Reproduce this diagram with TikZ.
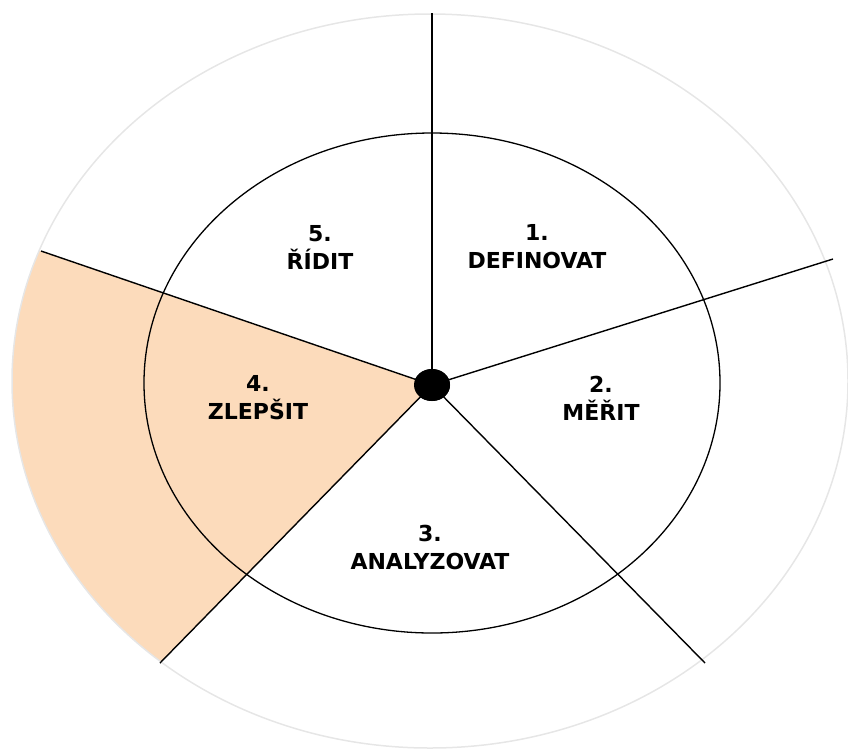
\documentclass[tikz,border=0pt]{standalone}
\usepackage{fontspec}
\setmainfont{DejaVu Sans}
\usepackage{tikz}
\usetikzlibrary{calc,shapes.geometric}
\definecolor{peach}{HTML}{FCDBBB}
\definecolor{rimgray}{HTML}{E6E6E6}
\tikzset{
  % hjulet
  rim/.style={draw=rimgray,line width=1.5pt},
  ring/.style={draw=black,line width=1.3pt},
  spoke/.style={draw=black,line width=1.4pt},
  hub/.style={ellipse,fill=black,inner sep=0pt,minimum width=36pt,minimum height=32pt},
  active/.style={fill=peach},
  % faser
  phase/.style={font=\fontsize{22}{28}\selectfont\bfseries,align=center,inner sep=0pt},
}
\begin{document}
\begin{tikzpicture}[x=1pt,y=-1pt]
  \useasboundingbox (0,0) rectangle (848,748);
  \coordinate (mid) at (430,381);
  \coordinate (pTop) at (432,13);
  \coordinate (pRight) at (833,259);
  \coordinate (pLowR) at (705,663);
  \coordinate (pLowL) at (160,663);
  \coordinate (pLeft) at (41,251);
  \node[hub] (hub) at (432,385) {};
  \begin{scope}
  \clip (mid) ellipse [x radius=418,y radius=367];
  \fill[active] (hub.center) -- ($(hub.center)!2!(pLeft)$) -- (-400,1000)
    -- ($(hub.center)!2!(pLowL)$) -- cycle;
  \end{scope}
  \draw[ring] (432,383) ellipse [x radius=288,y radius=250];
  \draw[rim] (mid) ellipse [x radius=418,y radius=367];
  \draw[spoke] (hub.center) -- (pTop);
  \draw[spoke] (hub.center) -- (pRight);
  \draw[spoke] (hub.center) -- (pLowR);
  \draw[spoke] (hub.center) -- (pLowL);
  \draw[spoke] (hub.center) -- (pLeft);
  \node[hub] at (hub) {};
  \node[phase] (define) at (537,247) {1.\\DEFINOVAT};
  \node[phase] (measure) at (601,398) {2.\\MĚŘIT};
  \node[phase] (analyse) at (430,547) {3.\\ANALYZOVAT};
  \node[phase] (improve) at (258,398) {4.\\ZLEPŠIT};
  \node[phase] (control) at (320,247) {5.\\ŘÍDIT};
\end{tikzpicture}
\end{document}
